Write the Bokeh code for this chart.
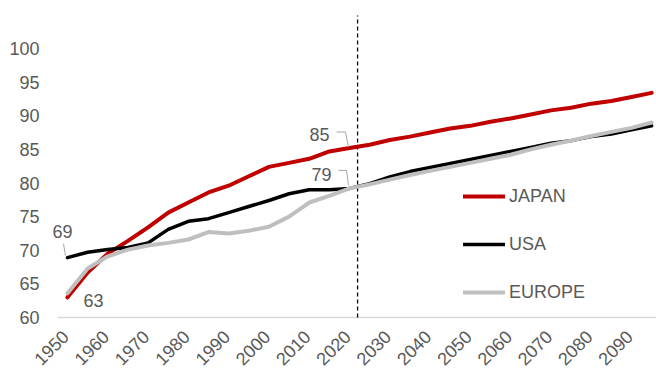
import math
from bokeh.plotting import figure
from bokeh.models import Range1d, Label, Legend, LegendItem
from bokeh.embed import file_html
from bokeh.resources import INLINE

years = list(range(1950, 2100, 5))
japan = [63.0, 66.7, 69.5, 71.4, 73.4, 75.6, 77.1, 78.6, 79.6, 81.0, 82.4, 83.0, 83.6, 84.7, 85.2,
         85.7, 86.4, 86.9, 87.5, 88.1, 88.5, 89.1, 89.6, 90.2, 90.8, 91.2, 91.8, 92.2, 92.8, 93.4]
usa = [68.9, 69.7, 70.1, 70.4, 71.1, 73.1, 74.3, 74.7, 75.6, 76.5, 77.4, 78.4, 79.0, 79.0, 79.2,
       79.9, 80.9, 81.7, 82.3, 82.9, 83.5, 84.1, 84.7, 85.3, 85.9, 86.3, 86.9, 87.3, 87.9, 88.5]
europe = [63.6, 67.3, 69.1, 70.1, 70.7, 71.1, 71.6, 72.7, 72.5, 72.9, 73.5, 75.0, 77.1, 78.1, 79.2,
          79.8, 80.5, 81.2, 81.8, 82.4, 83.0, 83.6, 84.2, 85.0, 85.7, 86.3, 87.0, 87.6, 88.2, 89.0]
series_names = ["JAPAN", "USA", "EUROPE"]
x_ticks = list(range(1950, 2100, 10))
x_tick_labels = [str(t) for t in x_ticks]
y_ticks = list(range(60, 105, 5))
y_tick_labels = [str(t) for t in y_ticks]
divider_year = 2022
divider_top = 104.9

FONT = "Liberation Sans"
TXT = "#595959"
colors = ["#c00000", "#000000", "#bfbfbf"]
widths = [4, 3.5, 4]

W, H = 656, 370
x0, x1 = 1933.37, 2096.2
y0, y1 = 52.12, 107.14

p = figure(width=W, height=H, output_backend="svg", toolbar_location=None,
           x_range=Range1d(x0, x1), y_range=Range1d(y0, y1),
           min_border_left=0, min_border_right=0, min_border_top=0,
           min_border_bottom=0)
p.outline_line_color = None
p.xgrid.visible = False
p.ygrid.visible = False
p.xaxis.visible = False
p.yaxis.visible = False
p.background_fill_color = "white"
p.border_fill_color = "white"

ppx = W / (x1 - x0)
ppy = H / (y1 - y0)

base = y_ticks[0]
# category-style baseline: starts half a step before the first year
p.segment(x0=[years[0] - 2.5], y0=[base], x1=[x1], y1=[base],
          line_color="#d9d9d9", line_width=1.5)

# x tick labels (rotated, below the baseline)
p.text(x=x_ticks, y=[base] * len(x_ticks), text=x_tick_labels, angle=math.pi / 4,
       x_offset=-2, y_offset=16, text_align="right", text_baseline="middle",
       text_font={"value": FONT}, text_font_size={"value": "18px"}, text_color=TXT)

# y tick labels
p.text(x=[years[0]] * len(y_ticks), y=y_ticks, text=y_tick_labels,
       x_offset=-28, y_offset=0, text_align="right", text_baseline="middle",
       text_font={"value": FONT}, text_font_size={"value": "18px"}, text_color=TXT)

# divider (projection start)
p.segment(x0=[divider_year], y0=[base], x1=[divider_year], y1=[divider_top],
          line_color="black", line_width=1.3, line_dash="4 3")

renderers = []
for name, data, c, w in zip(series_names, [japan, usa, europe], colors, widths):
    r = p.line(years, data, line_color=c, line_width=w, line_join="round", line_cap="round")
    renderers.append(r)

# annotations: (series, index, text-offset px, leader offsets px)
ann = [
    (japan, 14, (-30, 14), [(-1, 1), (-4, 16), (-13, 16)]),
    (usa, 14, (-28, 14), [(-1, 3), (-3, 18), (-11, 18)]),
    (usa, 0, (-5, 26), [(-2, 2), (-4, 14)]),
    (japan, 0, (26, -3), None),
]
for data, i, (tx, ty), lead in ann:
    xa, ya = years[i], data[i]
    p.add_layout(Label(x=xa, y=ya, x_offset=tx, y_offset=ty, text=str(round(data[i])),
                       text_font=FONT, text_font_size="18px", text_color=TXT,
                       text_align="center", text_baseline="middle"))
    if lead:
        p.line([xa + dx / ppx for dx, dy in lead], [ya + dy / ppy for dx, dy in lead],
               line_color="#a6a6a6", line_width=1)

legend = Legend(items=[LegendItem(label=n, renderers=[r]) for n, r in zip(series_names, renderers)],
                location=(463, 66), orientation="vertical",
                glyph_width=42, glyph_height=24, label_height=24, spacing=24,
                label_standoff=4, padding=0, margin=0,
                border_line_color=None, background_fill_alpha=0,
                label_text_font=FONT, label_text_font_size="18px", label_text_color=TXT)
p.add_layout(legend)

open("out.html", "w").write(file_html(p, INLINE))
